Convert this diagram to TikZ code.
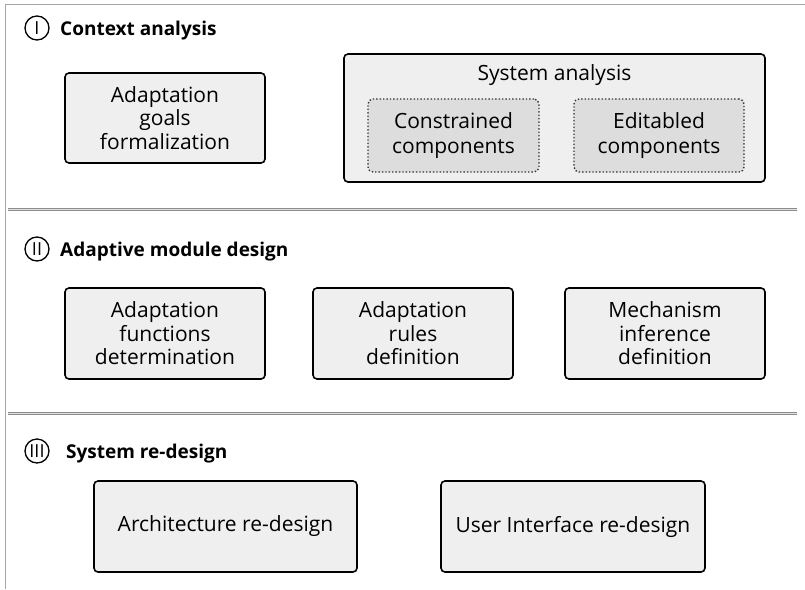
\documentclass[tikz,border=0pt]{standalone}
\usepackage{fontspec}
\setmainfont{Open Sans}
\begin{document}
\begin{tikzpicture}[x=1pt,y=-1pt,
  box/.style={draw=black,line width=1.6pt,rounded corners=4pt,fill=boxgray,inner sep=0pt,align=center,font=\fontsize{21}{23.5}\selectfont},
  sub/.style={draw=black!80,dotted,line width=1.4pt,rounded corners=5pt,fill=subgray,inner sep=0pt,align=center,font=\fontsize{21}{25}\selectfont},
  frameline/.style={draw=black!35,line width=1pt},
  sepline/.style={draw=black!45,line width=1pt,double=black!12,double distance=1.5pt},
  num/.style={circle,draw=black,line width=1.3pt,minimum size=24pt,inner sep=0pt,font=\fontsize{18}{18}\selectfont},
  title/.style={anchor=base west,font=\fontsize{19}{19}\selectfont\bfseries,inner sep=0pt}]
\definecolor{boxgray}{HTML}{EFEFEF}
\definecolor{subgray}{HTML}{DDDDDD}
\useasboundingbox (0,0) rectangle (805,589);
\fill[white] (0,0) rectangle (805,589);
% frame
\coordinate (tl) at (5,4);
\coordinate (tr) at (805,4);
\coordinate (bl) at (5,589);
\draw[frameline] (tr) -- (tl) -- (bl);
% separators
\coordinate (s1a) at (8,209.5);
\coordinate (s1b) at (797,209.5);
\coordinate (s2a) at (8,413.5);
\coordinate (s2b) at (797,413.5);
\draw[sepline] (s1a) -- (s1b);
\draw[sepline] (s2a) -- (s2b);
% section I
\node[num] (n1) at (37,28) {I};
\node[title] (t1) at (60,35) {Context analysis};
\node[box,minimum width=200pt,minimum height=90pt] (agf) at (165,118) {Adaptation\\goals\\formalization};
\node[box,minimum width=421pt,minimum height=128pt] (sa) at (554.5,118) {};
\node[font=\fontsize{21}{21}\selectfont,inner sep=0pt] (sat) at (554.5,75) {System analysis};
\node[sub,minimum width=171pt,minimum height=73pt] (cc) at (453.5,135.5) {Constrained\\components};
\node[sub,minimum width=170pt,minimum height=73pt] (ec) at (659,135.5) {Editabled\\components};
% section II
\node[num] (n2) at (37,249) {II};
\node[title] (t2) at (60,256) {Adaptive module design};
\node[box,minimum width=200pt,minimum height=91pt] (afd) at (165,333.5) {Adaptation\\functions\\determination};
\node[box,minimum width=200pt,minimum height=91pt] (ard) at (413,333.5) {Adaptation\\rules\\definition};
\node[box,minimum width=200pt,minimum height=91pt] (mid) at (665,333.5) {Mechanism\\inference\\definition};
% section III
\node[num] (n3) at (37,451) {III};
\node[title] (t3) at (66,458) {System re-design};
\node[box,minimum width=263pt,minimum height=91pt] (ard2) at (225.5,526.5) {Architecture re-design};
\node[box,minimum width=264pt,minimum height=91pt] (uir) at (573,526.5) {User Interface re-design};
\end{tikzpicture}
\end{document}
